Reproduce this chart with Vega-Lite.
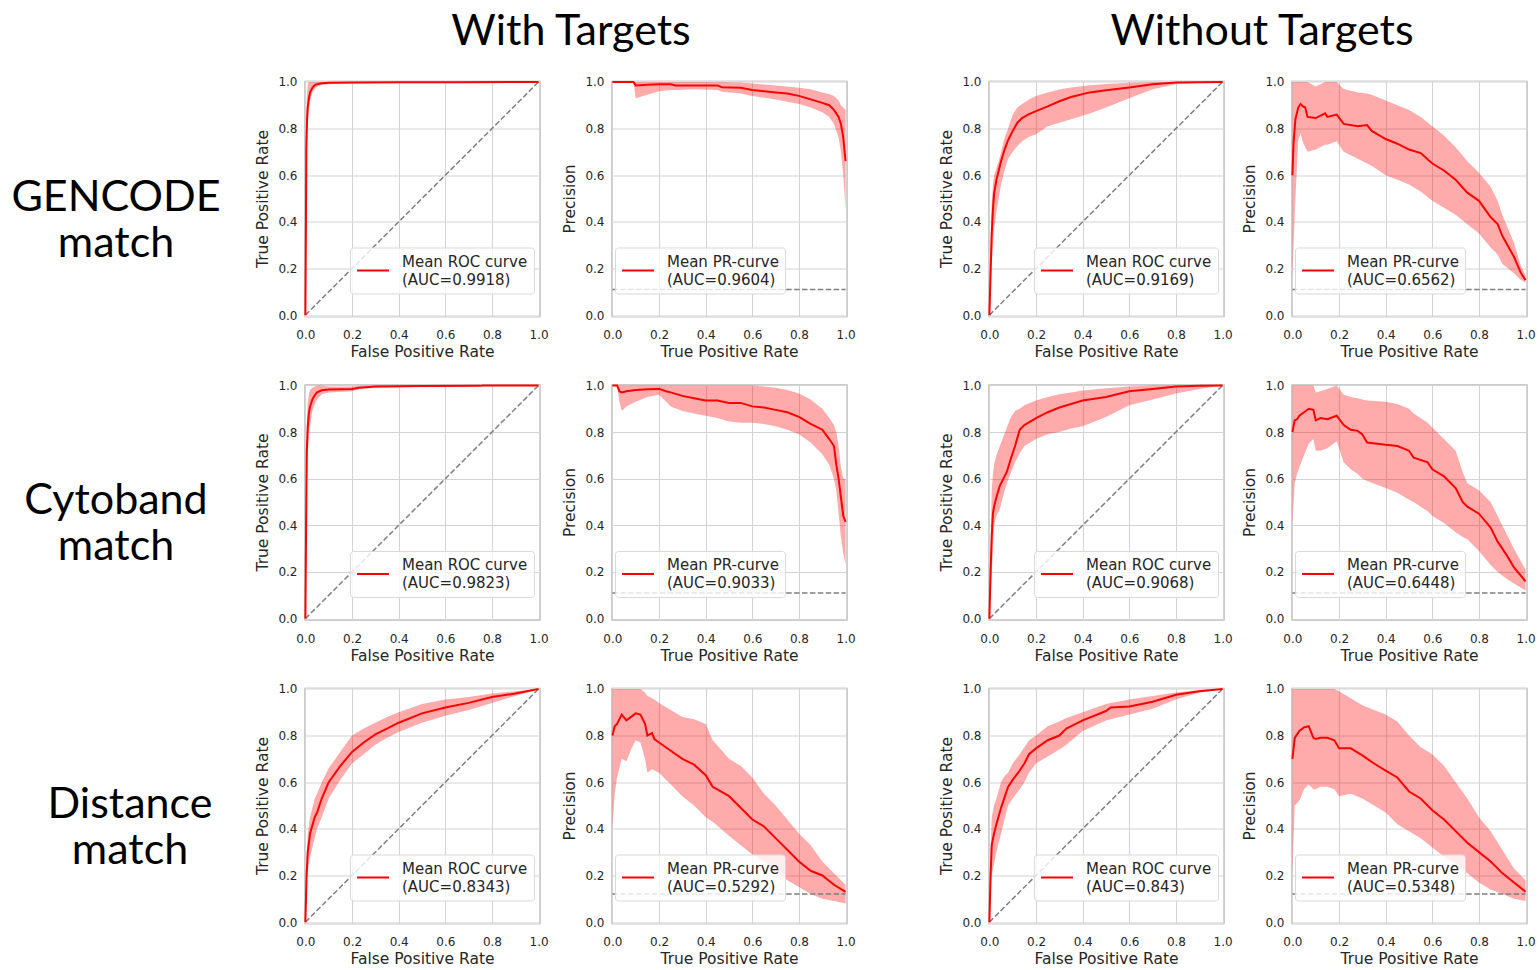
{
"$schema": "https://vega.github.io/schema/vega-lite/v6.json",
"padding": 0,
"background": "white",
"spacing": 17.5,
"resolve": {"scale": {"color": "independent"}, "legend": {"color": "independent"}},
"datasets": {
"diag": [{"x":0,"y":0},{"x":1,"y":1}],
"b11": [{"x":0,"y":0.11},{"x":1,"y":0.11}],
"b12": [{"x":0,"y":0.12},{"x":1,"y":0.12}],
"p1": [{"x":0,"y":0,"lo":0,"hi":0},{"x":0.002,"y":0.35,"lo":0.2,"hi":0.5},{"x":0.004,"y":0.72,"lo":0.55,"hi":0.88},{"x":0.007,"y":0.84,"lo":0.74,"hi":0.95},{"x":0.01,"y":0.89,"lo":0.82,"hi":0.99},{"x":0.015,"y":0.93,"lo":0.88,"hi":1},{"x":0.02,"y":0.955,"lo":0.92,"hi":1},{"x":0.03,"y":0.975,"lo":0.955,"hi":1},{"x":0.04,"y":0.986,"lo":0.972,"hi":1},{"x":0.05,"y":0.99,"lo":0.98,"hi":1},{"x":0.07,"y":0.994,"lo":0.987,"hi":1},{"x":0.1,"y":0.996,"lo":0.99,"hi":1},{"x":0.2,"y":0.997,"lo":0.993,"hi":1},{"x":0.4,"y":0.998,"lo":0.995,"hi":1},{"x":0.65,"y":0.999,"lo":0.998,"hi":1},{"x":1,"y":1,"lo":1,"hi":1}],
"p2": [{"x":0,"y":1,"lo":1,"hi":1},{"x":0.09,"y":1,"lo":1,"hi":1},{"x":0.1,"y":0.985,"lo":0.93,"hi":1},{"x":0.15,"y":0.988,"lo":0.945,"hi":1},{"x":0.2,"y":0.99,"lo":0.96,"hi":1},{"x":0.25,"y":0.99,"lo":0.965,"hi":1},{"x":0.27,"y":0.985,"lo":0.965,"hi":1},{"x":0.35,"y":0.985,"lo":0.968,"hi":1},{"x":0.45,"y":0.985,"lo":0.965,"hi":1},{"x":0.47,"y":0.977,"lo":0.958,"hi":1},{"x":0.55,"y":0.975,"lo":0.95,"hi":0.997},{"x":0.6,"y":0.965,"lo":0.94,"hi":0.993},{"x":0.7,"y":0.955,"lo":0.925,"hi":0.985},{"x":0.75,"y":0.95,"lo":0.915,"hi":0.98},{"x":0.8,"y":0.94,"lo":0.905,"hi":0.975},{"x":0.85,"y":0.925,"lo":0.89,"hi":0.968},{"x":0.9,"y":0.91,"lo":0.87,"hi":0.955},{"x":0.93,"y":0.9,"lo":0.85,"hi":0.948},{"x":0.95,"y":0.88,"lo":0.82,"hi":0.94},{"x":0.97,"y":0.85,"lo":0.76,"hi":0.92},{"x":0.98,"y":0.82,"lo":0.7,"hi":0.9},{"x":0.99,"y":0.76,"lo":0.6,"hi":0.89},{"x":1,"y":0.66,"lo":0.45,"hi":0.88}],
"p3": [{"x":0,"y":0,"lo":0,"hi":0},{"x":0.005,"y":0.18,"lo":0.1,"hi":0.3},{"x":0.01,"y":0.35,"lo":0.22,"hi":0.48},{"x":0.015,"y":0.45,"lo":0.3,"hi":0.56},{"x":0.02,"y":0.52,"lo":0.37,"hi":0.6},{"x":0.03,"y":0.58,"lo":0.44,"hi":0.63},{"x":0.04,"y":0.62,"lo":0.5,"hi":0.66},{"x":0.05,"y":0.66,"lo":0.56,"hi":0.7},{"x":0.065,"y":0.71,"lo":0.62,"hi":0.76},{"x":0.08,"y":0.75,"lo":0.67,"hi":0.8},{"x":0.1,"y":0.79,"lo":0.7,"hi":0.86},{"x":0.12,"y":0.825,"lo":0.725,"hi":0.89},{"x":0.14,"y":0.845,"lo":0.745,"hi":0.905},{"x":0.17,"y":0.862,"lo":0.765,"hi":0.925},{"x":0.2,"y":0.875,"lo":0.775,"hi":0.94},{"x":0.25,"y":0.895,"lo":0.81,"hi":0.955},{"x":0.3,"y":0.917,"lo":0.825,"hi":0.967},{"x":0.35,"y":0.935,"lo":0.84,"hi":0.976},{"x":0.43,"y":0.955,"lo":0.865,"hi":0.986},{"x":0.5,"y":0.964,"lo":0.89,"hi":0.991},{"x":0.6,"y":0.976,"lo":0.93,"hi":0.996},{"x":0.7,"y":0.99,"lo":0.968,"hi":1},{"x":0.8,"y":0.997,"lo":0.99,"hi":1},{"x":0.9,"y":0.999,"lo":0.996,"hi":1},{"x":1,"y":1,"lo":1,"hi":1}],
"p4": [{"x":0,"y":0.6,"lo":0.15,"hi":1},{"x":0.005,"y":0.74,"lo":0.3,"hi":1},{"x":0.013,"y":0.84,"lo":0.5,"hi":1},{"x":0.025,"y":0.89,"lo":0.75,"hi":1},{"x":0.035,"y":0.905,"lo":0.78,"hi":1},{"x":0.045,"y":0.895,"lo":0.74,"hi":1},{"x":0.055,"y":0.89,"lo":0.72,"hi":1},{"x":0.065,"y":0.85,"lo":0.7,"hi":1},{"x":0.1,"y":0.845,"lo":0.71,"hi":0.98},{"x":0.14,"y":0.865,"lo":0.73,"hi":1},{"x":0.15,"y":0.85,"lo":0.73,"hi":1},{"x":0.19,"y":0.86,"lo":0.745,"hi":1},{"x":0.22,"y":0.82,"lo":0.7,"hi":0.97},{"x":0.28,"y":0.81,"lo":0.67,"hi":0.955},{"x":0.32,"y":0.815,"lo":0.65,"hi":0.95},{"x":0.34,"y":0.79,"lo":0.64,"hi":0.945},{"x":0.4,"y":0.755,"lo":0.6,"hi":0.92},{"x":0.45,"y":0.735,"lo":0.58,"hi":0.9},{"x":0.5,"y":0.71,"lo":0.56,"hi":0.88},{"x":0.55,"y":0.695,"lo":0.53,"hi":0.85},{"x":0.6,"y":0.65,"lo":0.49,"hi":0.81},{"x":0.65,"y":0.62,"lo":0.46,"hi":0.77},{"x":0.7,"y":0.58,"lo":0.43,"hi":0.72},{"x":0.75,"y":0.525,"lo":0.39,"hi":0.66},{"x":0.8,"y":0.49,"lo":0.35,"hi":0.61},{"x":0.85,"y":0.42,"lo":0.29,"hi":0.55},{"x":0.88,"y":0.39,"lo":0.26,"hi":0.49},{"x":0.9,"y":0.34,"lo":0.22,"hi":0.43},{"x":0.95,"y":0.25,"lo":0.18,"hi":0.31},{"x":0.98,"y":0.18,"lo":0.15,"hi":0.21},{"x":1,"y":0.15,"lo":0.14,"hi":0.17}],
"p5": [{"x":0,"y":0,"lo":0,"hi":0},{"x":0.003,"y":0.4,"lo":0.25,"hi":0.55},{"x":0.006,"y":0.72,"lo":0.55,"hi":0.85},{"x":0.01,"y":0.82,"lo":0.7,"hi":0.93},{"x":0.015,"y":0.88,"lo":0.78,"hi":0.96},{"x":0.02,"y":0.91,"lo":0.83,"hi":0.98},{"x":0.03,"y":0.94,"lo":0.89,"hi":0.99},{"x":0.04,"y":0.958,"lo":0.92,"hi":0.995},{"x":0.05,"y":0.97,"lo":0.94,"hi":1},{"x":0.07,"y":0.979,"lo":0.962,"hi":1},{"x":0.1,"y":0.982,"lo":0.97,"hi":0.995},{"x":0.2,"y":0.985,"lo":0.975,"hi":0.995},{"x":0.23,"y":0.99,"lo":0.985,"hi":0.998},{"x":0.3,"y":0.995,"lo":0.99,"hi":1},{"x":0.5,"y":0.997,"lo":0.994,"hi":1},{"x":0.75,"y":0.998,"lo":0.997,"hi":1},{"x":0.76,"y":1,"lo":1,"hi":1},{"x":1,"y":1,"lo":1,"hi":1}],
"p6": [{"x":0,"y":1,"lo":1,"hi":1},{"x":0.02,"y":1,"lo":1,"hi":1},{"x":0.03,"y":0.975,"lo":0.93,"hi":1},{"x":0.04,"y":0.97,"lo":0.89,"hi":1},{"x":0.06,"y":0.975,"lo":0.91,"hi":1},{"x":0.1,"y":0.98,"lo":0.93,"hi":1},{"x":0.15,"y":0.983,"lo":0.95,"hi":1},{"x":0.2,"y":0.985,"lo":0.96,"hi":1},{"x":0.23,"y":0.975,"lo":0.93,"hi":1},{"x":0.25,"y":0.97,"lo":0.91,"hi":1},{"x":0.3,"y":0.955,"lo":0.89,"hi":1},{"x":0.35,"y":0.945,"lo":0.88,"hi":1},{"x":0.4,"y":0.935,"lo":0.87,"hi":1},{"x":0.45,"y":0.935,"lo":0.86,"hi":1},{"x":0.5,"y":0.925,"lo":0.845,"hi":1},{"x":0.55,"y":0.925,"lo":0.84,"hi":1},{"x":0.6,"y":0.91,"lo":0.84,"hi":1},{"x":0.65,"y":0.905,"lo":0.835,"hi":0.995},{"x":0.7,"y":0.895,"lo":0.825,"hi":0.99},{"x":0.75,"y":0.885,"lo":0.81,"hi":0.98},{"x":0.8,"y":0.865,"lo":0.79,"hi":0.965},{"x":0.85,"y":0.835,"lo":0.755,"hi":0.94},{"x":0.9,"y":0.81,"lo":0.705,"hi":0.9},{"x":0.93,"y":0.77,"lo":0.66,"hi":0.86},{"x":0.95,"y":0.74,"lo":0.6,"hi":0.83},{"x":0.96,"y":0.66,"lo":0.55,"hi":0.8},{"x":0.97,"y":0.6,"lo":0.45,"hi":0.74},{"x":0.98,"y":0.52,"lo":0.35,"hi":0.65},{"x":0.99,"y":0.44,"lo":0.28,"hi":0.6},{"x":1,"y":0.415,"lo":0.23,"hi":0.6}],
"p7": [{"x":0,"y":0,"lo":0,"hi":0},{"x":0.005,"y":0.2,"lo":0.1,"hi":0.3},{"x":0.01,"y":0.35,"lo":0.18,"hi":0.55},{"x":0.015,"y":0.45,"lo":0.3,"hi":0.62},{"x":0.02,"y":0.48,"lo":0.4,"hi":0.66},{"x":0.03,"y":0.52,"lo":0.44,"hi":0.7},{"x":0.045,"y":0.57,"lo":0.47,"hi":0.74},{"x":0.06,"y":0.6,"lo":0.53,"hi":0.78},{"x":0.075,"y":0.63,"lo":0.58,"hi":0.82},{"x":0.09,"y":0.68,"lo":0.62,"hi":0.86},{"x":0.11,"y":0.74,"lo":0.67,"hi":0.89},{"x":0.13,"y":0.81,"lo":0.71,"hi":0.9},{"x":0.15,"y":0.83,"lo":0.74,"hi":0.915},{"x":0.2,"y":0.86,"lo":0.77,"hi":0.935},{"x":0.25,"y":0.885,"lo":0.79,"hi":0.95},{"x":0.3,"y":0.905,"lo":0.8,"hi":0.962},{"x":0.35,"y":0.92,"lo":0.815,"hi":0.97},{"x":0.4,"y":0.935,"lo":0.825,"hi":0.978},{"x":0.5,"y":0.95,"lo":0.865,"hi":0.988},{"x":0.6,"y":0.975,"lo":0.915,"hi":0.995},{"x":0.7,"y":0.985,"lo":0.94,"hi":1},{"x":0.8,"y":0.995,"lo":0.965,"hi":1},{"x":0.9,"y":0.999,"lo":0.985,"hi":1},{"x":1,"y":1,"lo":1,"hi":1}],
"p8": [{"x":0,"y":0.8,"lo":0.4,"hi":1},{"x":0.01,"y":0.85,"lo":0.58,"hi":1},{"x":0.02,"y":0.855,"lo":0.62,"hi":1},{"x":0.03,"y":0.87,"lo":0.65,"hi":1},{"x":0.05,"y":0.885,"lo":0.7,"hi":1},{"x":0.07,"y":0.9,"lo":0.75,"hi":1},{"x":0.09,"y":0.895,"lo":0.77,"hi":1},{"x":0.1,"y":0.85,"lo":0.72,"hi":0.97},{"x":0.12,"y":0.86,"lo":0.72,"hi":0.975},{"x":0.15,"y":0.855,"lo":0.73,"hi":0.985},{"x":0.19,"y":0.87,"lo":0.76,"hi":1},{"x":0.22,"y":0.83,"lo":0.67,"hi":0.96},{"x":0.25,"y":0.81,"lo":0.64,"hi":0.95},{"x":0.28,"y":0.805,"lo":0.62,"hi":0.945},{"x":0.3,"y":0.79,"lo":0.6,"hi":0.94},{"x":0.32,"y":0.755,"lo":0.59,"hi":0.935},{"x":0.4,"y":0.745,"lo":0.56,"hi":0.93},{"x":0.45,"y":0.74,"lo":0.54,"hi":0.92},{"x":0.5,"y":0.72,"lo":0.51,"hi":0.9},{"x":0.52,"y":0.69,"lo":0.5,"hi":0.88},{"x":0.58,"y":0.67,"lo":0.46,"hi":0.84},{"x":0.6,"y":0.64,"lo":0.44,"hi":0.82},{"x":0.65,"y":0.61,"lo":0.41,"hi":0.77},{"x":0.7,"y":0.56,"lo":0.37,"hi":0.72},{"x":0.73,"y":0.5,"lo":0.35,"hi":0.63},{"x":0.75,"y":0.48,"lo":0.34,"hi":0.58},{"x":0.8,"y":0.45,"lo":0.29,"hi":0.55},{"x":0.85,"y":0.39,"lo":0.23,"hi":0.5},{"x":0.88,"y":0.33,"lo":0.2,"hi":0.44},{"x":0.92,"y":0.27,"lo":0.17,"hi":0.36},{"x":0.95,"y":0.22,"lo":0.15,"hi":0.3},{"x":1,"y":0.16,"lo":0.12,"hi":0.21}],
"p9": [{"x":0,"y":0,"lo":0,"hi":0},{"x":0.005,"y":0.2,"lo":0.12,"hi":0.28},{"x":0.01,"y":0.3,"lo":0.22,"hi":0.38},{"x":0.02,"y":0.38,"lo":0.28,"hi":0.45},{"x":0.04,"y":0.45,"lo":0.36,"hi":0.53},{"x":0.05,"y":0.47,"lo":0.4,"hi":0.55},{"x":0.07,"y":0.53,"lo":0.45,"hi":0.6},{"x":0.1,"y":0.6,"lo":0.53,"hi":0.66},{"x":0.15,"y":0.67,"lo":0.61,"hi":0.73},{"x":0.2,"y":0.73,"lo":0.68,"hi":0.8},{"x":0.25,"y":0.77,"lo":0.72,"hi":0.83},{"x":0.3,"y":0.805,"lo":0.76,"hi":0.855},{"x":0.35,"y":0.83,"lo":0.79,"hi":0.88},{"x":0.4,"y":0.855,"lo":0.815,"hi":0.9},{"x":0.5,"y":0.895,"lo":0.855,"hi":0.935},{"x":0.6,"y":0.92,"lo":0.885,"hi":0.955},{"x":0.7,"y":0.94,"lo":0.91,"hi":0.965},{"x":0.8,"y":0.965,"lo":0.94,"hi":0.98},{"x":0.9,"y":0.98,"lo":0.97,"hi":0.99},{"x":1,"y":1,"lo":1,"hi":1}],
"p10": [{"x":0,"y":0.8,"lo":0.4,"hi":1},{"x":0.01,"y":0.84,"lo":0.55,"hi":1},{"x":0.02,"y":0.85,"lo":0.62,"hi":1},{"x":0.04,"y":0.89,"lo":0.7,"hi":1},{"x":0.06,"y":0.865,"lo":0.69,"hi":1},{"x":0.08,"y":0.88,"lo":0.74,"hi":1},{"x":0.1,"y":0.895,"lo":0.78,"hi":1},{"x":0.12,"y":0.89,"lo":0.77,"hi":1},{"x":0.14,"y":0.85,"lo":0.7,"hi":0.985},{"x":0.15,"y":0.8,"lo":0.64,"hi":0.97},{"x":0.17,"y":0.81,"lo":0.655,"hi":0.96},{"x":0.18,"y":0.785,"lo":0.65,"hi":0.955},{"x":0.2,"y":0.77,"lo":0.64,"hi":0.94},{"x":0.25,"y":0.735,"lo":0.59,"hi":0.91},{"x":0.3,"y":0.7,"lo":0.54,"hi":0.88},{"x":0.35,"y":0.675,"lo":0.5,"hi":0.87},{"x":0.4,"y":0.63,"lo":0.45,"hi":0.85},{"x":0.43,"y":0.58,"lo":0.43,"hi":0.78},{"x":0.5,"y":0.54,"lo":0.37,"hi":0.7},{"x":0.55,"y":0.49,"lo":0.33,"hi":0.67},{"x":0.6,"y":0.44,"lo":0.29,"hi":0.62},{"x":0.65,"y":0.41,"lo":0.26,"hi":0.55},{"x":0.7,"y":0.36,"lo":0.22,"hi":0.5},{"x":0.75,"y":0.31,"lo":0.18,"hi":0.44},{"x":0.8,"y":0.26,"lo":0.15,"hi":0.38},{"x":0.85,"y":0.22,"lo":0.12,"hi":0.33},{"x":0.9,"y":0.2,"lo":0.1,"hi":0.26},{"x":0.95,"y":0.16,"lo":0.09,"hi":0.21},{"x":1,"y":0.13,"lo":0.08,"hi":0.16}],
"p11": [{"x":0,"y":0,"lo":0,"hi":0},{"x":0.005,"y":0.2,"lo":0.1,"hi":0.3},{"x":0.01,"y":0.33,"lo":0.2,"hi":0.45},{"x":0.02,"y":0.38,"lo":0.25,"hi":0.5},{"x":0.03,"y":0.42,"lo":0.3,"hi":0.53},{"x":0.05,"y":0.49,"lo":0.38,"hi":0.6},{"x":0.06,"y":0.52,"lo":0.42,"hi":0.62},{"x":0.08,"y":0.58,"lo":0.5,"hi":0.64},{"x":0.1,"y":0.61,"lo":0.53,"hi":0.68},{"x":0.13,"y":0.65,"lo":0.57,"hi":0.72},{"x":0.15,"y":0.68,"lo":0.6,"hi":0.75},{"x":0.17,"y":0.72,"lo":0.64,"hi":0.78},{"x":0.2,"y":0.745,"lo":0.68,"hi":0.8},{"x":0.25,"y":0.78,"lo":0.71,"hi":0.84},{"x":0.3,"y":0.8,"lo":0.74,"hi":0.86},{"x":0.33,"y":0.83,"lo":0.76,"hi":0.875},{"x":0.4,"y":0.865,"lo":0.82,"hi":0.9},{"x":0.5,"y":0.905,"lo":0.865,"hi":0.935},{"x":0.52,"y":0.92,"lo":0.87,"hi":0.94},{"x":0.6,"y":0.925,"lo":0.89,"hi":0.955},{"x":0.7,"y":0.945,"lo":0.915,"hi":0.97},{"x":0.8,"y":0.975,"lo":0.955,"hi":0.985},{"x":0.9,"y":0.99,"lo":0.985,"hi":0.995},{"x":1,"y":1,"lo":1,"hi":1}],
"p12": [{"x":0,"y":0.7,"lo":0.2,"hi":1},{"x":0.01,"y":0.79,"lo":0.5,"hi":1},{"x":0.03,"y":0.82,"lo":0.52,"hi":1},{"x":0.05,"y":0.835,"lo":0.57,"hi":1},{"x":0.07,"y":0.84,"lo":0.59,"hi":1},{"x":0.09,"y":0.79,"lo":0.57,"hi":1},{"x":0.1,"y":0.785,"lo":0.57,"hi":1},{"x":0.12,"y":0.79,"lo":0.58,"hi":1},{"x":0.15,"y":0.79,"lo":0.58,"hi":1},{"x":0.18,"y":0.78,"lo":0.57,"hi":1},{"x":0.2,"y":0.745,"lo":0.54,"hi":0.99},{"x":0.25,"y":0.745,"lo":0.55,"hi":0.96},{"x":0.3,"y":0.715,"lo":0.53,"hi":0.93},{"x":0.35,"y":0.68,"lo":0.5,"hi":0.91},{"x":0.4,"y":0.65,"lo":0.47,"hi":0.89},{"x":0.45,"y":0.62,"lo":0.42,"hi":0.86},{"x":0.5,"y":0.56,"lo":0.39,"hi":0.8},{"x":0.55,"y":0.53,"lo":0.36,"hi":0.75},{"x":0.6,"y":0.48,"lo":0.32,"hi":0.72},{"x":0.65,"y":0.44,"lo":0.28,"hi":0.67},{"x":0.7,"y":0.39,"lo":0.25,"hi":0.6},{"x":0.75,"y":0.34,"lo":0.21,"hi":0.53},{"x":0.8,"y":0.3,"lo":0.17,"hi":0.45},{"x":0.85,"y":0.26,"lo":0.14,"hi":0.39},{"x":0.9,"y":0.21,"lo":0.12,"hi":0.31},{"x":0.95,"y":0.17,"lo":0.1,"hi":0.23},{"x":1,"y":0.13,"lo":0.09,"hi":0.18}]
},
"vconcat": [
{"hconcat": [
 {"width": 80, "height": 56.5, "view": {"stroke": null}, "data": {"values": [{"t": ""}]}, "mark": {"type": "text"}, "encoding": {"text": {"field": "t"}}},
 {"width": 300, "height": 56.5, "view": {"stroke": null}, "data": {"values": [{"t": "With Targets"}]}, "mark": {"type": "text", "font": "Lato", "fontSize": 43, "color": "#000000", "baseline": "middle", "dy": 4}, "encoding": {"text": {"field": "t"}}},
 {"width": 400, "height": 56.5, "view": {"stroke": null}, "data": {"values": [{"t": "Without Targets"}]}, "mark": {"type": "text", "font": "Lato", "fontSize": 43, "color": "#000000", "baseline": "middle", "dy": 4}, "encoding": {"text": {"field": "t"}}}
], "spacing": 341},
{"hconcat": [
 {"width": 232, "height": 236, "view": {"stroke": null}, "data": {"values": [{"t": "GENCODE\nmatch"}]}, "mark": {"type": "text", "font": "Lato", "fontSize": 43, "color": "#000000", "lineBreak": "\n", "lineHeight": 46, "dy": -1}, "encoding": {"text": {"field": "t"}}},
 {"hconcat": [
  {"hconcat": [
   {"width": 236, "height": 236, "data": {"name": "p1"},
    "encoding": {"x": {"field": "x", "type": "quantitative", "title": "False Positive Rate", "scale": {"domain": [-0.006, 1.006], "nice": false}}, "y": {"field": "y", "type": "quantitative", "title": "True Positive Rate", "scale": {"domain": [-0.006, 1.006], "nice": false}}},
    "layer": [
     {"mark": {"type": "area", "color": "#ff0000", "opacity": 0.33}, "encoding": {"y": {"field": "lo", "type": "quantitative", "title": "True Positive Rate", "scale": {"domain": [-0.006, 1.006], "nice": false}}, "y2": {"field": "hi"}}},
     {"data": {"name": "diag"}, "mark": {"type": "line", "color": "#7f7f7f", "strokeWidth": 1.5, "strokeDash": [5.5, 2.4]}, "encoding": {}},
     {"mark": {"type": "line", "strokeWidth": 2}, "encoding": {"color": {"datum": "Mean ROC curve|(AUC=0.9918)", "scale": {"range": ["#ff0000"]}, "legend": {"title": null, "legendX": 46, "legendY": 167, "labelExpr": "split(datum.label, '|')", "encode": {"labels": {"update": {"dy": {"value": -9}, "lineHeight": {"value": 18}}}}}}}}
    ]},
   {"width": 236, "height": 236, "data": {"name": "p2"},
    "encoding": {"x": {"field": "x", "type": "quantitative", "title": "True Positive Rate", "scale": {"domain": [-0.006, 1.006], "nice": false}}, "y": {"field": "y", "type": "quantitative", "title": "Precision", "scale": {"domain": [-0.006, 1.006], "nice": false}}},
    "layer": [
     {"mark": {"type": "area", "color": "#ff0000", "opacity": 0.33}, "encoding": {"y": {"field": "lo", "type": "quantitative", "title": "Precision", "scale": {"domain": [-0.006, 1.006], "nice": false}}, "y2": {"field": "hi"}}},
     {"data": {"name": "b11"}, "mark": {"type": "line", "color": "#7f7f7f", "strokeWidth": 1.5, "strokeDash": [5.5, 2.4]}, "encoding": {}},
     {"mark": {"type": "line", "strokeWidth": 2}, "encoding": {"color": {"datum": "Mean PR-curve|(AUC=0.9604)", "scale": {"range": ["#ff0000"]}, "legend": {"title": null, "legendX": 4, "legendY": 167, "labelExpr": "split(datum.label, '|')", "encode": {"labels": {"update": {"dy": {"value": -9}, "lineHeight": {"value": 18}}}}}}}}
    ]}
  ], "spacing": 13, "resolve": {"scale": {"color": "independent"}, "legend": {"color": "independent"}}},
  {"hconcat": [
   {"width": 236, "height": 236, "data": {"name": "p3"},
    "encoding": {"x": {"field": "x", "type": "quantitative", "title": "False Positive Rate", "scale": {"domain": [-0.006, 1.006], "nice": false}}, "y": {"field": "y", "type": "quantitative", "title": "True Positive Rate", "scale": {"domain": [-0.006, 1.006], "nice": false}}},
    "layer": [
     {"mark": {"type": "area", "color": "#ff0000", "opacity": 0.33}, "encoding": {"y": {"field": "lo", "type": "quantitative", "title": "True Positive Rate", "scale": {"domain": [-0.006, 1.006], "nice": false}}, "y2": {"field": "hi"}}},
     {"data": {"name": "diag"}, "mark": {"type": "line", "color": "#7f7f7f", "strokeWidth": 1.5, "strokeDash": [5.5, 2.4]}, "encoding": {}},
     {"mark": {"type": "line", "strokeWidth": 2}, "encoding": {"color": {"datum": "Mean ROC curve|(AUC=0.9169)", "scale": {"range": ["#ff0000"]}, "legend": {"title": null, "legendX": 46, "legendY": 167, "labelExpr": "split(datum.label, '|')", "encode": {"labels": {"update": {"dy": {"value": -9}, "lineHeight": {"value": 18}}}}}}}}
    ]},
   {"width": 236, "height": 236, "data": {"name": "p4"},
    "encoding": {"x": {"field": "x", "type": "quantitative", "title": "True Positive Rate", "scale": {"domain": [-0.006, 1.006], "nice": false}}, "y": {"field": "y", "type": "quantitative", "title": "Precision", "scale": {"domain": [-0.006, 1.006], "nice": false}}},
    "layer": [
     {"mark": {"type": "area", "color": "#ff0000", "opacity": 0.33}, "encoding": {"y": {"field": "lo", "type": "quantitative", "title": "Precision", "scale": {"domain": [-0.006, 1.006], "nice": false}}, "y2": {"field": "hi"}}},
     {"data": {"name": "b11"}, "mark": {"type": "line", "color": "#7f7f7f", "strokeWidth": 1.5, "strokeDash": [5.5, 2.4]}, "encoding": {}},
     {"mark": {"type": "line", "strokeWidth": 2}, "encoding": {"color": {"datum": "Mean PR-curve|(AUC=0.6562)", "scale": {"range": ["#ff0000"]}, "legend": {"title": null, "legendX": 4, "legendY": 167, "labelExpr": "split(datum.label, '|')", "encode": {"labels": {"update": {"dy": {"value": -9}, "lineHeight": {"value": 18}}}}}}}}
    ]}
  ], "spacing": 9, "resolve": {"scale": {"color": "independent"}, "legend": {"color": "independent"}}}
 ], "spacing": 83, "resolve": {"scale": {"color": "independent"}, "legend": {"color": "independent"}}}
], "spacing": 23, "resolve": {"scale": {"color": "independent"}, "legend": {"color": "independent"}}},
{"hconcat": [
 {"width": 232, "height": 236, "view": {"stroke": null}, "data": {"values": [{"t": "Cytoband\nmatch"}]}, "mark": {"type": "text", "font": "Lato", "fontSize": 43, "color": "#000000", "lineBreak": "\n", "lineHeight": 46, "dy": -1}, "encoding": {"text": {"field": "t"}}},
 {"hconcat": [
  {"hconcat": [
   {"width": 236, "height": 236, "data": {"name": "p5"},
    "encoding": {"x": {"field": "x", "type": "quantitative", "title": "False Positive Rate", "scale": {"domain": [-0.006, 1.006], "nice": false}}, "y": {"field": "y", "type": "quantitative", "title": "True Positive Rate", "scale": {"domain": [-0.006, 1.006], "nice": false}}},
    "layer": [
     {"mark": {"type": "area", "color": "#ff0000", "opacity": 0.33}, "encoding": {"y": {"field": "lo", "type": "quantitative", "title": "True Positive Rate", "scale": {"domain": [-0.006, 1.006], "nice": false}}, "y2": {"field": "hi"}}},
     {"data": {"name": "diag"}, "mark": {"type": "line", "color": "#7f7f7f", "strokeWidth": 1.5, "strokeDash": [5.5, 2.4]}, "encoding": {}},
     {"mark": {"type": "line", "strokeWidth": 2}, "encoding": {"color": {"datum": "Mean ROC curve|(AUC=0.9823)", "scale": {"range": ["#ff0000"]}, "legend": {"title": null, "legendX": 46, "legendY": 167, "labelExpr": "split(datum.label, '|')", "encode": {"labels": {"update": {"dy": {"value": -9}, "lineHeight": {"value": 18}}}}}}}}
    ]},
   {"width": 236, "height": 236, "data": {"name": "p6"},
    "encoding": {"x": {"field": "x", "type": "quantitative", "title": "True Positive Rate", "scale": {"domain": [-0.006, 1.006], "nice": false}}, "y": {"field": "y", "type": "quantitative", "title": "Precision", "scale": {"domain": [-0.006, 1.006], "nice": false}}},
    "layer": [
     {"mark": {"type": "area", "color": "#ff0000", "opacity": 0.33}, "encoding": {"y": {"field": "lo", "type": "quantitative", "title": "Precision", "scale": {"domain": [-0.006, 1.006], "nice": false}}, "y2": {"field": "hi"}}},
     {"data": {"name": "b11"}, "mark": {"type": "line", "color": "#7f7f7f", "strokeWidth": 1.5, "strokeDash": [5.5, 2.4]}, "encoding": {}},
     {"mark": {"type": "line", "strokeWidth": 2}, "encoding": {"color": {"datum": "Mean PR-curve|(AUC=0.9033)", "scale": {"range": ["#ff0000"]}, "legend": {"title": null, "legendX": 4, "legendY": 167, "labelExpr": "split(datum.label, '|')", "encode": {"labels": {"update": {"dy": {"value": -9}, "lineHeight": {"value": 18}}}}}}}}
    ]}
  ], "spacing": 13, "resolve": {"scale": {"color": "independent"}, "legend": {"color": "independent"}}},
  {"hconcat": [
   {"width": 236, "height": 236, "data": {"name": "p7"},
    "encoding": {"x": {"field": "x", "type": "quantitative", "title": "False Positive Rate", "scale": {"domain": [-0.006, 1.006], "nice": false}}, "y": {"field": "y", "type": "quantitative", "title": "True Positive Rate", "scale": {"domain": [-0.006, 1.006], "nice": false}}},
    "layer": [
     {"mark": {"type": "area", "color": "#ff0000", "opacity": 0.33}, "encoding": {"y": {"field": "lo", "type": "quantitative", "title": "True Positive Rate", "scale": {"domain": [-0.006, 1.006], "nice": false}}, "y2": {"field": "hi"}}},
     {"data": {"name": "diag"}, "mark": {"type": "line", "color": "#7f7f7f", "strokeWidth": 1.5, "strokeDash": [5.5, 2.4]}, "encoding": {}},
     {"mark": {"type": "line", "strokeWidth": 2}, "encoding": {"color": {"datum": "Mean ROC curve|(AUC=0.9068)", "scale": {"range": ["#ff0000"]}, "legend": {"title": null, "legendX": 46, "legendY": 167, "labelExpr": "split(datum.label, '|')", "encode": {"labels": {"update": {"dy": {"value": -9}, "lineHeight": {"value": 18}}}}}}}}
    ]},
   {"width": 236, "height": 236, "data": {"name": "p8"},
    "encoding": {"x": {"field": "x", "type": "quantitative", "title": "True Positive Rate", "scale": {"domain": [-0.006, 1.006], "nice": false}}, "y": {"field": "y", "type": "quantitative", "title": "Precision", "scale": {"domain": [-0.006, 1.006], "nice": false}}},
    "layer": [
     {"mark": {"type": "area", "color": "#ff0000", "opacity": 0.33}, "encoding": {"y": {"field": "lo", "type": "quantitative", "title": "Precision", "scale": {"domain": [-0.006, 1.006], "nice": false}}, "y2": {"field": "hi"}}},
     {"data": {"name": "b11"}, "mark": {"type": "line", "color": "#7f7f7f", "strokeWidth": 1.5, "strokeDash": [5.5, 2.4]}, "encoding": {}},
     {"mark": {"type": "line", "strokeWidth": 2}, "encoding": {"color": {"datum": "Mean PR-curve|(AUC=0.6448)", "scale": {"range": ["#ff0000"]}, "legend": {"title": null, "legendX": 4, "legendY": 167, "labelExpr": "split(datum.label, '|')", "encode": {"labels": {"update": {"dy": {"value": -9}, "lineHeight": {"value": 18}}}}}}}}
    ]}
  ], "spacing": 9, "resolve": {"scale": {"color": "independent"}, "legend": {"color": "independent"}}}
 ], "spacing": 83, "resolve": {"scale": {"color": "independent"}, "legend": {"color": "independent"}}}
], "spacing": 23, "resolve": {"scale": {"color": "independent"}, "legend": {"color": "independent"}}},
{"hconcat": [
 {"width": 232, "height": 236, "view": {"stroke": null}, "data": {"values": [{"t": "Distance\nmatch"}]}, "mark": {"type": "text", "font": "Lato", "fontSize": 43, "color": "#000000", "lineBreak": "\n", "lineHeight": 46, "dy": -1, "dx": 14}, "encoding": {"text": {"field": "t"}}},
 {"hconcat": [
  {"hconcat": [
   {"width": 236, "height": 236, "data": {"name": "p9"},
    "encoding": {"x": {"field": "x", "type": "quantitative", "title": "False Positive Rate", "scale": {"domain": [-0.006, 1.006], "nice": false}}, "y": {"field": "y", "type": "quantitative", "title": "True Positive Rate", "scale": {"domain": [-0.006, 1.006], "nice": false}}},
    "layer": [
     {"mark": {"type": "area", "color": "#ff0000", "opacity": 0.33}, "encoding": {"y": {"field": "lo", "type": "quantitative", "title": "True Positive Rate", "scale": {"domain": [-0.006, 1.006], "nice": false}}, "y2": {"field": "hi"}}},
     {"data": {"name": "diag"}, "mark": {"type": "line", "color": "#7f7f7f", "strokeWidth": 1.5, "strokeDash": [5.5, 2.4]}, "encoding": {}},
     {"mark": {"type": "line", "strokeWidth": 2}, "encoding": {"color": {"datum": "Mean ROC curve|(AUC=0.8343)", "scale": {"range": ["#ff0000"]}, "legend": {"title": null, "legendX": 46, "legendY": 167, "labelExpr": "split(datum.label, '|')", "encode": {"labels": {"update": {"dy": {"value": -9}, "lineHeight": {"value": 18}}}}}}}}
    ]},
   {"width": 236, "height": 236, "data": {"name": "p10"},
    "encoding": {"x": {"field": "x", "type": "quantitative", "title": "True Positive Rate", "scale": {"domain": [-0.006, 1.006], "nice": false}}, "y": {"field": "y", "type": "quantitative", "title": "Precision", "scale": {"domain": [-0.006, 1.006], "nice": false}}},
    "layer": [
     {"mark": {"type": "area", "color": "#ff0000", "opacity": 0.33}, "encoding": {"y": {"field": "lo", "type": "quantitative", "title": "Precision", "scale": {"domain": [-0.006, 1.006], "nice": false}}, "y2": {"field": "hi"}}},
     {"data": {"name": "b12"}, "mark": {"type": "line", "color": "#7f7f7f", "strokeWidth": 1.5, "strokeDash": [5.5, 2.4]}, "encoding": {}},
     {"mark": {"type": "line", "strokeWidth": 2}, "encoding": {"color": {"datum": "Mean PR-curve|(AUC=0.5292)", "scale": {"range": ["#ff0000"]}, "legend": {"title": null, "legendX": 4, "legendY": 167, "labelExpr": "split(datum.label, '|')", "encode": {"labels": {"update": {"dy": {"value": -9}, "lineHeight": {"value": 18}}}}}}}}
    ]}
  ], "spacing": 13, "resolve": {"scale": {"color": "independent"}, "legend": {"color": "independent"}}},
  {"hconcat": [
   {"width": 236, "height": 236, "data": {"name": "p11"},
    "encoding": {"x": {"field": "x", "type": "quantitative", "title": "False Positive Rate", "scale": {"domain": [-0.006, 1.006], "nice": false}}, "y": {"field": "y", "type": "quantitative", "title": "True Positive Rate", "scale": {"domain": [-0.006, 1.006], "nice": false}}},
    "layer": [
     {"mark": {"type": "area", "color": "#ff0000", "opacity": 0.33}, "encoding": {"y": {"field": "lo", "type": "quantitative", "title": "True Positive Rate", "scale": {"domain": [-0.006, 1.006], "nice": false}}, "y2": {"field": "hi"}}},
     {"data": {"name": "diag"}, "mark": {"type": "line", "color": "#7f7f7f", "strokeWidth": 1.5, "strokeDash": [5.5, 2.4]}, "encoding": {}},
     {"mark": {"type": "line", "strokeWidth": 2}, "encoding": {"color": {"datum": "Mean ROC curve|(AUC=0.843)", "scale": {"range": ["#ff0000"]}, "legend": {"title": null, "legendX": 46, "legendY": 167, "labelExpr": "split(datum.label, '|')", "encode": {"labels": {"update": {"dy": {"value": -9}, "lineHeight": {"value": 18}}}}}}}}
    ]},
   {"width": 236, "height": 236, "data": {"name": "p12"},
    "encoding": {"x": {"field": "x", "type": "quantitative", "title": "True Positive Rate", "scale": {"domain": [-0.006, 1.006], "nice": false}}, "y": {"field": "y", "type": "quantitative", "title": "Precision", "scale": {"domain": [-0.006, 1.006], "nice": false}}},
    "layer": [
     {"mark": {"type": "area", "color": "#ff0000", "opacity": 0.33}, "encoding": {"y": {"field": "lo", "type": "quantitative", "title": "Precision", "scale": {"domain": [-0.006, 1.006], "nice": false}}, "y2": {"field": "hi"}}},
     {"data": {"name": "b12"}, "mark": {"type": "line", "color": "#7f7f7f", "strokeWidth": 1.5, "strokeDash": [5.5, 2.4]}, "encoding": {}},
     {"mark": {"type": "line", "strokeWidth": 2}, "encoding": {"color": {"datum": "Mean PR-curve|(AUC=0.5348)", "scale": {"range": ["#ff0000"]}, "legend": {"title": null, "legendX": 4, "legendY": 167, "labelExpr": "split(datum.label, '|')", "encode": {"labels": {"update": {"dy": {"value": -9}, "lineHeight": {"value": 18}}}}}}}}
    ]}
  ], "spacing": 9, "resolve": {"scale": {"color": "independent"}, "legend": {"color": "independent"}}}
 ], "spacing": 83, "resolve": {"scale": {"color": "independent"}, "legend": {"color": "independent"}}}
], "spacing": 23, "resolve": {"scale": {"color": "independent"}, "legend": {"color": "independent"}}}
],
"config": {
 "font": "DejaVu Sans",
 "view": {"stroke": "#cccccc", "strokeWidth": 1},
 "axis": {"grid": true, "gridColor": "#d3d3d3", "gridWidth": 1, "domain": false, "ticks": false, "tickSize": 0, "labelFont": "DejaVu Sans", "labelFontSize": 12, "labelColor": "#262626", "titleFont": "DejaVu Sans", "titleFontSize": 15.5, "titleFontWeight": "normal", "titleColor": "#262626", "tickCount": 6, "format": ".1f", "labelFlush": false, "labelOverlap": false},
 "axisX": {"labelPadding": 13, "titlePadding": 4},
 "axisY": {"labelPadding": 7, "titlePadding": 7},
 "legend": {"orient": "none", "fillColor": "rgba(255,255,255,0.8)", "strokeColor": "#d9d9d9", "cornerRadius": 3, "padding": 6, "symbolType": "stroke", "symbolSize": 1024, "symbolStrokeWidth": 2, "labelFont": "DejaVu Sans", "labelFontSize": 15, "labelColor": "#262626", "labelOffset": 12, "labelLimit": 300}
}
}
